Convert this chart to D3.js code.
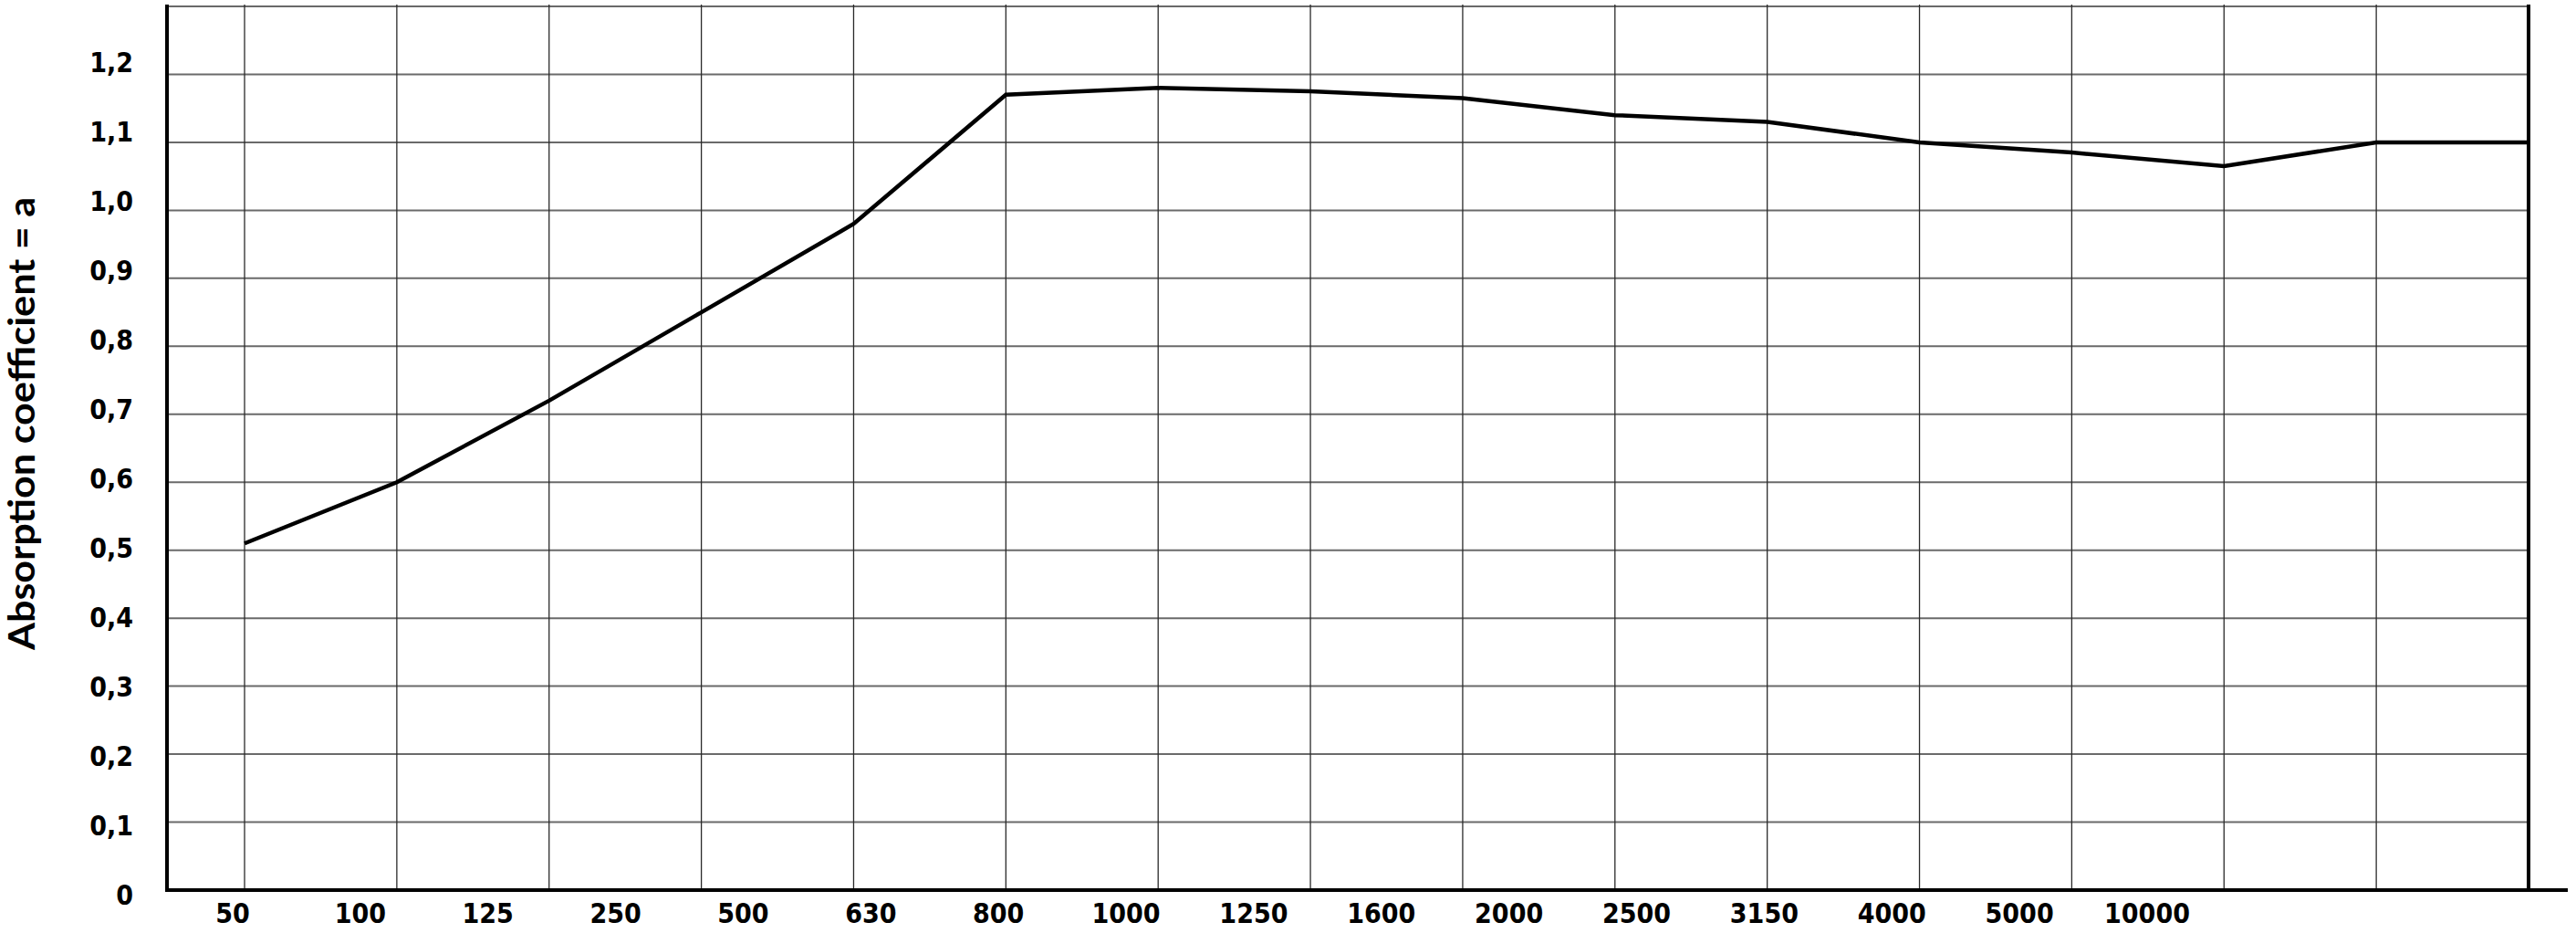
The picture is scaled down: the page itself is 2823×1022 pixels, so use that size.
<!DOCTYPE html>
<html>
<head>
<meta charset="utf-8">
<script src="https://cdn.jsdelivr.net/npm/d3@7"></script>
<style>
  body { margin: 0; background: #fff; }
  .tick-label { font-family: "DejaVu Sans Condensed", "Liberation Sans Narrow", "DejaVu Sans", sans-serif; font-stretch: condensed; font-weight: bold; font-size: 30px; fill: #000; }
  .axis-title { font-family: "Lato", "DejaVu Sans", sans-serif; font-weight: bold; font-size: 40px; fill: #000; }
</style>
</head>
<body>
<svg id="chart" width="2823" height="1022"></svg>
<script>
// frequency bands (Hz) shown under the chart
var freqLabels = ["50", "100", "125", "250", "500", "630", "800", "1000", "1250", "1600", "2000", "2500", "3150", "4000", "5000", "10000"];

// absorption coefficient read at each vertical grid line
var absorption = [0.51, 0.60, 0.72, 0.85, 0.98, 1.17, 1.18, 1.175, 1.165, 1.14, 1.13, 1.10, 1.085, 1.065, 1.10, 1.10];

// y ticks
var yTicks = [0, 0.1, 0.2, 0.3, 0.4, 0.5, 0.6, 0.7, 0.8, 0.9, 1.0, 1.1, 1.2];
var yTickLabels = ["0", "0,1", "0,2", "0,3", "0,4", "0,5", "0,6", "0,7", "0,8", "0,9", "1,0", "1,1", "1,2"];

var svg = d3.select('#chart');

var plotLeft = 183, plotRight = 2771, plotBottom = 975, plotTop = 7;

// grid / data scales
var x = d3.scalePoint().domain(d3.range(absorption.length)).range([268, plotRight]);
var y = d3.scaleLinear().domain([0, 1.3]).range([plotBottom, plotTop]);

// the labels sit on their own spacing, not exactly on the grid
var xLab = d3.scalePoint().domain(freqLabels).range([255, 2353]);
var yLab = d3.scaleLinear().domain([0, 1.2]).range([980, 68]);

// horizontal grid lines
svg.append('g')
  .selectAll('line')
  .data(yTicks.slice(1).concat([1.3]))
  .enter()
  .append('line')
  .attr('x1', plotLeft)
  .attr('x2', plotRight)
  .attr('y1', function(d) { return y(d); })
  .attr('y2', function(d) { return y(d); })
  .attr('stroke', '#6a6a6a')
  .attr('stroke-width', 2);

// vertical grid lines
svg.append('g')
  .selectAll('line')
  .data(d3.range(absorption.length - 1))
  .enter()
  .append('line')
  .attr('x1', function(d) { return x(d); })
  .attr('x2', function(d) { return x(d); })
  .attr('y1', 5)
  .attr('y2', plotBottom)
  .attr('stroke', '#2a2a2a')
  .attr('stroke-width', 1.3);

// frame: left, right, bottom
svg.append('line')
  .attr('x1', plotLeft).attr('x2', plotLeft)
  .attr('y1', 5).attr('y2', plotBottom + 2)
  .attr('stroke', '#000').attr('stroke-width', 4);
svg.append('line')
  .attr('x1', plotRight).attr('x2', plotRight)
  .attr('y1', 5).attr('y2', plotBottom + 2)
  .attr('stroke', '#000').attr('stroke-width', 4);
svg.append('line')
  .attr('x1', plotLeft).attr('x2', 2814)
  .attr('y1', plotBottom).attr('y2', plotBottom)
  .attr('stroke', '#000').attr('stroke-width', 4);

// the curve
var line = d3.line()
  .x(function(d, i) { return x(i); })
  .y(function(d) { return y(d); });

svg.append('path')
  .datum(absorption)
  .attr('d', line)
  .attr('fill', 'none')
  .attr('stroke', '#000')
  .attr('stroke-width', 4.5)
  .attr('stroke-linejoin', 'miter');

// y tick labels
svg.append('g')
  .selectAll('text')
  .data(yTicks)
  .enter()
  .append('text')
  .attr('class', 'tick-label')
  .attr('x', 146)
  .attr('y', function(d) { return yLab(d); })
  .attr('dy', '0.36em')
  .attr('text-anchor', 'end')
  .text(function(d, i) { return yTickLabels[i]; });

// x tick labels
svg.append('g')
  .selectAll('text')
  .data(freqLabels)
  .enter()
  .append('text')
  .attr('class', 'tick-label')
  .attr('x', function(d) { return xLab(d); })
  .attr('y', 1011)
  .attr('text-anchor', 'middle')
  .text(function(d) { return d; });

// axis title
svg.append('text')
  .attr('class', 'axis-title')
  .attr('transform', 'translate(38,464) rotate(-90)')
  .attr('text-anchor', 'middle')
  .attr('textLength', 496)
  .attr('lengthAdjust', 'spacingAndGlyphs')
  .text('Absorption coefficient = a');
</script>
</body>
</html>
